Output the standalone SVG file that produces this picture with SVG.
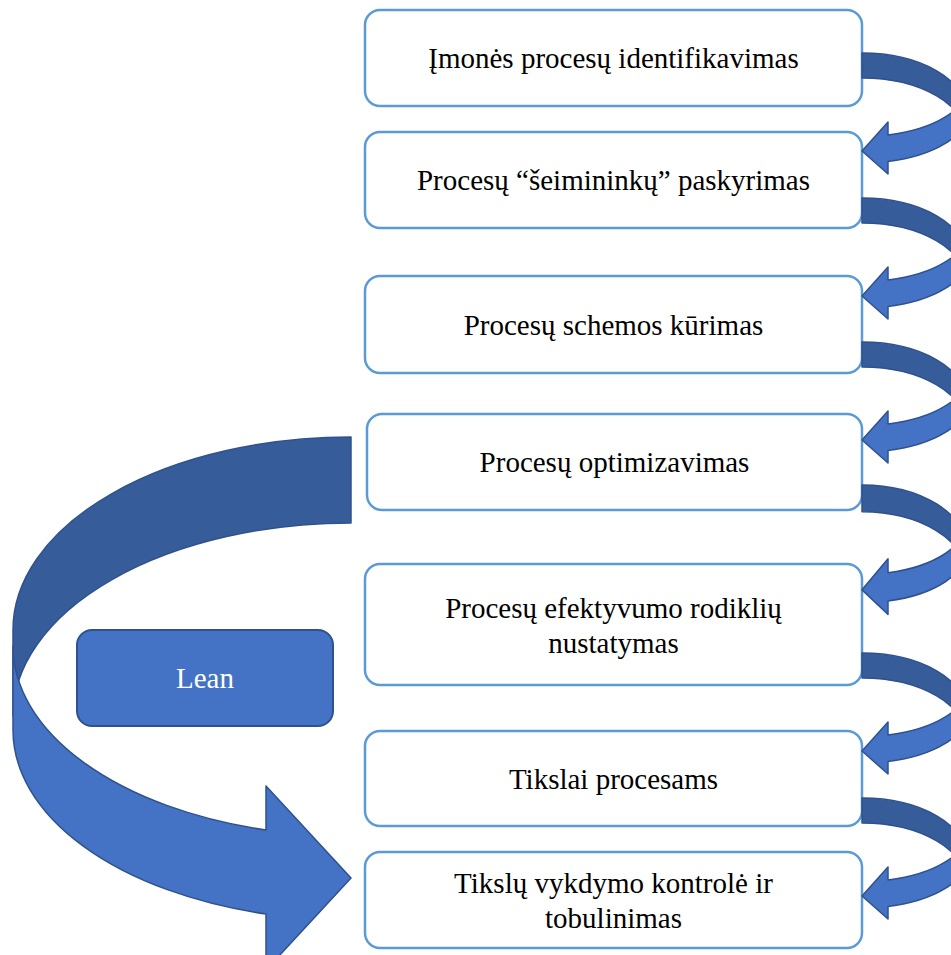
<svg xmlns="http://www.w3.org/2000/svg" xmlns:xlink="http://www.w3.org/1999/xlink" width="951" height="955" viewBox="0 0 951 955">
  <style>
    .step { fill: #ffffff; stroke: #5B9BD5; stroke-width: 2.5; }
    .label { font-family: "Liberation Serif", "Times New Roman", serif; font-size: 29px; fill: #000000; text-anchor: middle; }
    .lean-box { fill: #4472C4; stroke: #2F528F; stroke-width: 2; }
    .lean-label { font-family: "Liberation Serif", "Times New Roman", serif; font-size: 29px; fill: #ffffff; text-anchor: middle; }
    .back { fill: #375C9A; stroke: #2F528F; stroke-width: 1.5; stroke-linejoin: round; }
    .front { fill: #4472C4; stroke: #2F528F; stroke-width: 1.5; stroke-linejoin: round; }
  </style>
  <defs>
    <!-- small U-turn arrow: leaves a box on the right and points back into the next one -->
    <g id="bend">
      <path class="back" d="M862,0 A105,60 0 0 1 967,60 L967,85 A105,60 0 0 0 862,25 Z"/>
      <path class="front" d="M888,82 A105,50 0 0 0 967,33.5 L967,60 A105,50 0 0 1 888,108.4 L888,121 L862,98 L888,69 Z"/>
    </g>
  </defs>

  <rect width="951" height="955" fill="#ffffff"/>

  <!-- large curved feedback arrow on the left -->
  <g id="lean-loop">
    <path class="back" d="M351,437 A338,193 0 0 0 13,630 L13,716 A338,193 0 0 1 351,523 Z"/>
    <path class="front" d="M266,830 A338,190 0 0 1 13,646 L13,730 A338,190 0 0 0 266,914 L266,970 L351,878 L266,786 Z"/>
  </g>

  <g id="lean">
    <rect class="lean-box" x="77" y="630" width="256" height="96" rx="15"/>
    <text class="lean-label" x="205" y="688">Lean</text>
  </g>

  <g id="step1">
    <rect class="step" x="365" y="10" width="497" height="96" rx="15"/>
    <text class="label" x="613.5" y="68">Įmonės procesų identifikavimas</text>
  </g>
  <g id="step2">
    <rect class="step" x="365" y="132" width="497" height="96" rx="15"/>
    <text class="label" x="613.5" y="190">Procesų “šeimininkų” paskyrimas</text>
  </g>
  <g id="step3">
    <rect class="step" x="365" y="276" width="497" height="97" rx="15"/>
    <text class="label" x="613.5" y="335">Procesų schemos kūrimas</text>
  </g>
  <g id="step4">
    <rect class="step" x="367" y="414" width="495" height="96" rx="15"/>
    <text class="label" x="614.5" y="472">Procesų optimizavimas</text>
  </g>
  <g id="step5">
    <rect class="step" x="365" y="564" width="497" height="121" rx="15"/>
    <text class="label" x="613.5" y="618">Procesų efektyvumo rodiklių</text>
    <text class="label" x="613.5" y="653">nustatymas</text>
  </g>
  <g id="step6">
    <rect class="step" x="365" y="731" width="497" height="95" rx="15"/>
    <text class="label" x="613.5" y="789">Tikslai procesams</text>
  </g>
  <g id="step7">
    <rect class="step" x="365" y="852" width="497" height="96" rx="15"/>
    <text class="label" x="613.5" y="893">Tikslų vykdymo kontrolė ir</text>
    <text class="label" x="613.5" y="928">tobulinimas</text>
  </g>

  <!-- connectors between consecutive steps -->
  <g id="connectors">
    <use xlink:href="#bend" href="#bend" transform="translate(0,53)"/>
    <use xlink:href="#bend" href="#bend" transform="translate(0,198)"/>
    <use xlink:href="#bend" href="#bend" transform="translate(0,342)"/>
    <use xlink:href="#bend" href="#bend" transform="translate(0,485) scale(1,1.07)"/>
    <use xlink:href="#bend" href="#bend" transform="translate(0,653)"/>
    <use xlink:href="#bend" href="#bend" transform="translate(0,798)"/>
  </g>
</svg>
